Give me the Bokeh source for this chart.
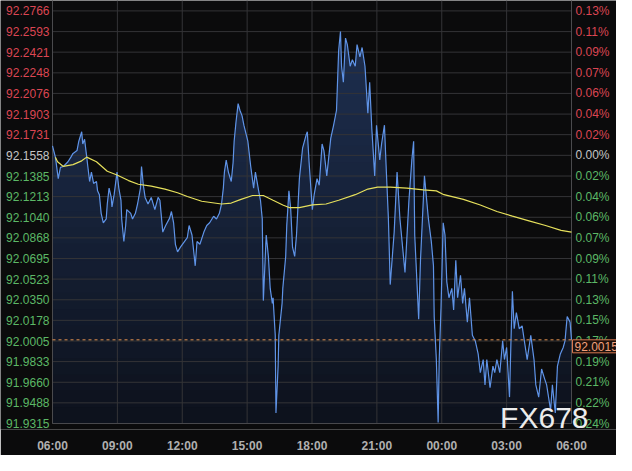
from datetime import datetime, timezone
import numpy as np
from bokeh.plotting import figure
from bokeh.models import (Range1d, FixedTicker, DatetimeTickFormatter, Label, ColumnDataSource)
from bokeh.core.properties import value
from bokeh.embed import file_html
from bokeh.resources import INLINE

# ---------------- data ----------------
# minutes after 06:00 and price of the blue intraday line
minutes = [0, 8, 16, 22, 30, 43, 51, 57, 68, 73, 81, 84, 89, 95, 98, 103, 108, 114, 122, 125,
           130, 135, 141, 149, 152, 157, 163, 165, 171, 179, 184, 190, 192, 198, 203, 206, 217, 222, 230, 236,
           244, 247, 252, 257, 265, 274, 284, 293, 298, 306, 314, 325, 330, 336, 341, 347, 355, 366, 374, 379,
           387, 396, 401, 409, 420, 428, 436, 447, 455, 463, 469, 474, 477, 482, 488, 496, 501, 504, 509, 515,
           520, 526, 531, 542, 550, 558, 563, 572, 577, 582, 585, 593, 599, 604, 610, 612, 618, 620, 626, 628,
           637, 639, 647, 650, 656, 661, 666, 672, 677, 685, 694, 704, 707, 712, 721, 726, 734, 740, 748, 753,
           761, 772, 780, 788, 794, 799, 802, 807, 813, 818, 826, 832, 840, 845, 853, 859, 867, 875, 880, 886,
           894, 899, 908, 913, 921, 926, 932, 937, 948, 956, 964, 978, 989, 997, 1002, 1005, 1016, 1021, 1032, 1043,
           1051, 1057, 1059, 1065, 1070, 1073, 1078, 1084, 1089, 1094, 1100, 1108, 1113, 1119, 1124, 1132, 1138, 1143, 1151, 1157,
           1165, 1173, 1181, 1187, 1195, 1200, 1205, 1214, 1222, 1227, 1233, 1241, 1249, 1254, 1260, 1268, 1273, 1276, 1281, 1287,
           1295, 1303, 1308, 1317, 1327, 1336, 1341, 1349, 1357, 1365, 1371, 1382, 1387, 1395, 1401, 1409, 1417, 1422, 1428, 1436,
           1440]
prices = [92.1637, 92.1543, 92.1363, 92.1457, 92.1465, 92.1504, 92.1543, 92.1574, 92.1598, 92.1676, 92.1755, 92.1653, 92.1692, 92.1543, 92.1465, 92.1339, 92.1418, 92.1323, 92.1339, 92.1261,
          92.1229, 92.1073, 92.0994, 92.1026, 92.1151, 92.1284, 92.1206, 92.1127, 92.1229, 92.1418, 92.1284, 92.1182, 92.1026, 92.0837, 92.0971, 92.1104, 92.1073, 92.1026, 92.1073, 92.1151,
          92.1284, 92.1465, 92.1308, 92.1206, 92.1151, 92.1206, 92.1104, 92.1206, 92.1182, 92.0916, 92.0971, 92.1033, 92.1088, 92.0994, 92.0814, 92.0751, 92.0790, 92.0837, 92.0869, 92.0971,
          92.0892, 92.0634, 92.0837, 92.0814, 92.0916, 92.0971, 92.0994, 92.1049, 92.1026, 92.1073, 92.1151, 92.1284, 92.1418, 92.1519, 92.1418, 92.1339, 92.1496, 92.1676, 92.1833, 92.1990,
          92.1935, 92.1888, 92.1810, 92.1676, 92.1465, 92.1284, 92.1418, 92.1261, 92.1182, 92.1026, 92.0343, 92.0892, 92.0712, 92.0445, 92.0320, 92.0367, 92.0053, 91.9403, 91.9795, 92.0053,
          92.0320, 92.0445, 92.0712, 92.0971, 92.1261, 92.1104, 92.0790, 92.0712, 92.0892, 92.1363, 92.1621, 92.1731, 92.1755, 92.1496, 92.1104, 92.1229, 92.1363, 92.1308, 92.1653, 92.1598,
          92.1386, 92.1700, 92.1810, 92.1935, 92.2437, 92.2594, 92.2303, 92.2170, 92.2539, 92.2484, 92.2303, 92.2358, 92.2303, 92.2484, 92.2382, 92.2460, 92.2303, 92.1911, 92.2170, 92.1778,
          92.1386, 92.1810, 92.1519, 92.1653, 92.1810, 92.1441, 92.1026, 92.0477, 92.0916, 92.1418, 92.1026, 92.0579, 92.1182, 92.1519, 92.1676, 92.0892, 92.0187, 92.0681, 92.1386, 92.1026,
          92.0837, 92.0634, 92.0210, 91.9850, 91.9324, 91.9850, 92.0289, 92.0994, 92.0892, 92.0500, 92.0367, 92.0445, 92.0265, 92.0681, 92.0367, 92.0555, 92.0320, 92.0445, 92.0163, 92.0367,
          92.0053, 92.0006, 91.9897, 91.9740, 91.9850, 91.9638, 91.9850, 91.9614, 91.9795, 91.9740, 91.9850, 91.9740, 92.0006, 91.9850, 91.9951, 91.9536, 92.0108, 92.0422, 92.0108, 92.0242,
          92.0108, 92.0132, 92.0030, 91.9850, 92.0053, 91.9850, 91.9638, 91.9536, 91.9771, 91.9693, 91.9638, 91.9426, 91.9638, 91.9403, 91.9795, 91.9897, 91.9951, 92.0006, 92.0210, 92.0163,
          92.0015]
assert len(minutes) == len(prices)

# yellow moving-average line
ma_minutes = [8, 14, 30, 57, 81, 95, 122, 152, 179, 211, 238, 274, 312, 347, 374, 414, 469, 496, 523, 555,
              585, 612, 639, 658, 685, 721, 759, 794, 840, 875, 902, 937, 983, 1029, 1065, 1086, 1140, 1187, 1233, 1276,
              1322, 1368, 1411, 1440]
ma_prices = [92.1543, 92.1504, 92.1465, 92.1480, 92.1512, 92.1543, 92.1504, 92.1425, 92.1394, 92.1347,
             92.1316, 92.1300, 92.1276, 92.1245, 92.1214, 92.1174, 92.1151, 92.1159, 92.1190, 92.1222,
             92.1222, 92.1182, 92.1143, 92.1120, 92.1120, 92.1143, 92.1151, 92.1182, 92.1229, 92.1276,
             92.1292, 92.1292, 92.1284, 92.1269, 92.1261, 92.1229, 92.1190, 92.1143, 92.1088, 92.1049,
             92.1010, 92.0971, 92.0931, 92.0916]

price_ticks = [92.2766, 92.2593, 92.2421, 92.2248, 92.2076, 92.1903, 92.1731, 92.1558, 92.1385, 92.1213,
               92.1040, 92.0868, 92.0695, 92.0523, 92.0350, 92.0178, 92.0005, 91.9833, 91.9660, 91.9488, 91.9315]
price_tick_labels = ["92.2766", "92.2593", "92.2421", "92.2248", "92.2076", "92.1903", "92.1731", "92.1558",
                     "92.1385", "92.1213", "92.1040", "92.0868", "92.0695", "92.0523", "92.0350", "92.0178",
                     "92.0005", "91.9833", "91.9660", "91.9488", "91.9315"]
pct_labels = ["0.13%", "0.11%", "0.09%", "0.07%", "0.06%", "0.04%", "0.02%", "0.00%", "0.02%", "0.04%",
              "0.06%", "0.07%", "0.09%", "0.11%", "0.13%", "0.15%", "0.17%", "0.19%", "0.21%", "0.22%", "0.24%"]
time_tick_hours = [0, 3, 6, 9, 12, 15, 18, 21, 24]
ref_price = 92.1558
last_price = 92.0015
last_label = "92.0015"
watermark = "FX678"

# ---------------- build ----------------
BG = "#0b0b0c"
RED, GREY, GREEN = "#dc4653", "#c4c4c4", "#5cb866"
GRID = "#343437"
FONT = "Liberation Sans"
W, H = 616, 455
PAD_L, PAD_R = 52, 45        # room for the price / percent labels inside the canvas
BOTTOM = 18                  # room for the time labels

HOUR = 3600000.0
base_ms = datetime(2024, 1, 2, 6, 0, tzinfo=timezone.utc).timestamp() * 1000.0
x = base_ms + np.array(minutes, dtype=float) * 60000.0
y = np.array(prices)
mx = base_ms + np.array(ma_minutes, dtype=float) * 60000.0
x0, x1 = base_ms, base_ms + 24 * HOUR
y0, y1 = 91.9315, 92.2766          # bottom / top price ticks
yr0, yr1 = 91.9265, 92.2853        # visible price range

ms_per_px = (x1 - x0) / (W - PAD_L - PAD_R)
p = figure(width=W, height=H, x_axis_type="datetime", output_backend="svg",
           toolbar_location=None,
           x_range=Range1d(x0 - PAD_L * ms_per_px, x1 + PAD_R * ms_per_px),
           y_range=Range1d(yr0, yr1),
           min_border_left=0, min_border_right=0, min_border_top=0, min_border_bottom=BOTTOM)
p.background_fill_color = BG
p.border_fill_color = BG
p.outline_line_color = None
p.xgrid.visible = False
p.ygrid.visible = False
p.yaxis.visible = False

time_ticks = [x0 + h * HOUR for h in time_tick_hours]

# grid lines restricted to the plotting area
p.segment(x0=[x0] * len(price_ticks), x1=[x1] * len(price_ticks), y0=price_ticks, y1=price_ticks,
          line_color=GRID, line_width=1)
p.segment(x0=time_ticks, x1=time_ticks, y0=[y0] * len(time_ticks), y1=[yr1] * len(time_ticks),
          line_color=GRID, line_width=1)

# gradient-looking fill under the price line (layers of decreasing height)
N = 24
top_rgb = np.array([30, 47, 80])
bot_rgb = np.array([13, 17, 27])
edges = np.linspace(y0, y.max(), N + 1)
for k in range(N, 0, -1):
    f = k / N
    c = (bot_rgb + (top_rgb - bot_rgb) * f).astype(int)
    col = "#%02x%02x%02x" % tuple(c)
    r = p.varea(x=x, y1=np.full_like(y, y0), y2=np.minimum(y, edges[k]), fill_color=col)
    r.level = "image"

# frame edges (left, right, bottom)
p.segment(x0=[x0, x1, x0], x1=[x0, x1, x1], y0=[y0, y0, y0], y1=[yr1, yr1, y0],
          line_color="#4a4a4d", line_width=1)

p.line(x, y, line_color="#5f93e6", line_width=1.2)
p.line(mx, ma_prices, line_color="#e6e05c", line_width=1.2)

# dashed last-price line
p.segment(x0=[x0], x1=[x1], y0=[last_price], y1=[last_price], line_color="#e0904f",
          line_dash="3 3", line_width=1)

# time axis
xa = p.xaxis[0]
xa.ticker = FixedTicker(ticks=time_ticks)
fmt = "%H:%M"
xa.formatter = DatetimeTickFormatter(hours=fmt, hourmin=fmt, days=fmt, months=fmt, minutes=fmt,
                                     minsec=fmt, seconds=fmt, years=fmt)
xa.axis_line_color = None
xa.major_tick_line_color = None
xa.minor_tick_line_color = None
xa.major_label_text_color = "#b0b0b0"
xa.major_label_text_font = FONT
xa.major_label_text_font_style = "bold"
xa.major_label_text_font_size = "12px"
xa.major_label_standoff = 3

# coloured price labels (left) and percentage labels (right)
cols = [RED if v > ref_price + 1e-6 else (GREY if abs(v - ref_price) < 1e-6 else GREEN) for v in price_ticks]
src = ColumnDataSource(dict(xl=[x0] * len(price_ticks), xr=[x1] * len(price_ticks),
                            y=price_ticks, lt=price_tick_labels, rt=pct_labels, c=cols))
p.text(x="xl", y="y", text="lt", source=src, x_offset=-3, text_align="right",
       text_baseline="middle", text_color="c", text_font_size=value("12px"), text_font=value(FONT))
p.text(x="xr", y="y", text="rt", source=src, x_offset=4, text_align="left",
       text_baseline="middle", text_color="c", text_font_size=value("12px"), text_font=value(FONT))

# last price box
p.add_layout(Label(x=x1, y=last_price, text=last_label, x_offset=1, text_align="left",
                   text_baseline="top", text_color="#f2a07c", text_font_size="12px",
                   text_font=FONT, background_fill_color="#1c100b",
                   border_line_color="#d8774f", padding=2))

# watermark
p.add_layout(Label(x=x1, y=y0, text=watermark, x_offset=17, y_offset=6, text_align="right",
                   text_baseline="alphabetic", text_color="#ececec",
                   text_font_size="30px", text_font=FONT))

open("out.html", "w").write(file_html(p, INLINE))
